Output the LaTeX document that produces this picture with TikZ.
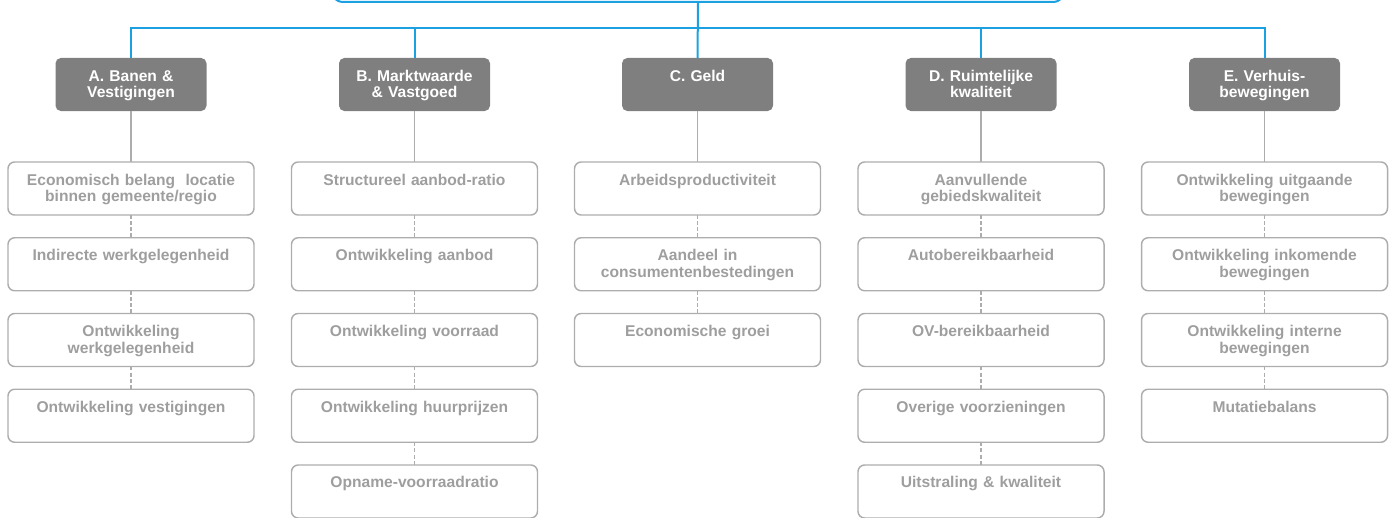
\documentclass[tikz,border=0pt]{standalone}
\usepackage{fontspec}
\setmainfont{Liberation Sans}
\usetikzlibrary{positioning}

\definecolor{lineblue}{HTML}{1BA1E2}
\definecolor{headgray}{HTML}{7F7F7F}
\definecolor{boxgray}{HTML}{ADADAD}
\definecolor{textgray}{HTML}{9E9E9E}

\begin{document}
\begin{tikzpicture}[x=0.75pt,y=-0.75pt,node distance=17.06pt,
    every node/.style={outer sep=0pt,inner ysep=0pt,align=center,
      text height=17.25pt,text depth=22.5pt,
      font=\fontsize{11.7}{12.6}\selectfont\bfseries},
    head/.style={rectangle,rounded corners=4pt,fill=headgray,text=white,
      minimum width=113.25pt,text width=105pt,inner xsep=0pt},
    item/.style={rectangle,rounded corners=5pt,draw=boxgray,line width=1.1pt,
      text=textgray,minimum width=184.5pt,text width=175pt,inner xsep=0pt},
    link/.style={draw=lineblue,line width=1.5pt},
    stem/.style={draw=boxgray,line width=1.1pt},
    dots/.style={stem,dash pattern=on 3pt off 1.6pt}]

  \useasboundingbox (0,0) rectangle (1394,517);

  \node[draw=lineblue,line width=1.5pt,rounded corners=10pt,fill=white,
        minimum width=552pt,minimum height=33pt,inner sep=0pt,
        text height=,text depth=] (goal) at (698,-20) {};
  \coordinate (bar) at (698,28.5);

  \node[head] (A) at (131,84.5)    {A. Banen \&\\Vestigingen};
  \node[head] (B) at (414.5,84.5)  {B. Marktwaarde\\\& Vastgoed};
  \node[head] (C) at (697.5,84.5)  {C. Geld};
  \node[head] (D) at (981,84.5)    {D. Ruimtelijke\\kwaliteit};
  \node[head] (E) at (1264.5,84.5) {E. Verhuis-\\bewegingen};

  % A. Banen & Vestigingen
  \node[item] (a1) [below=38.25pt of A] {Economisch belang~~locatie\\binnen gemeente/regio};
  \node[item] (a2) [below=of a1] {Indirecte werkgelegenheid};
  \node[item] (a3) [below=of a2] {Ontwikkeling\\werkgelegenheid};
  \node[item] (a4) [below=of a3] {Ontwikkeling vestigingen};

  % B. Marktwaarde & Vastgoed
  \node[item] (b1) [below=38.25pt of B] {Structureel aanbod-ratio};
  \node[item] (b2) [below=of b1] {Ontwikkeling aanbod};
  \node[item] (b3) [below=of b2] {Ontwikkeling voorraad};
  \node[item] (b4) [below=of b3] {Ontwikkeling huurprijzen};
  \node[item] (b5) [below=of b4] {Opname-voorraadratio};

  % C. Geld
  \node[item] (c1) [below=38.25pt of C] {Arbeidsproductiviteit};
  \node[item] (c2) [below=of c1] {Aandeel in\\consumentenbestedingen};
  \node[item] (c3) [below=of c2] {Economische groei};

  % D. Ruimtelijke kwaliteit
  \node[item] (d1) [below=38.25pt of D] {Aanvullende\\gebiedskwaliteit};
  \node[item] (d2) [below=of d1] {Autobereikbaarheid};
  \node[item] (d3) [below=of d2] {OV-bereikbaarheid};
  \node[item] (d4) [below=of d3] {Overige voorzieningen};
  \node[item] (d5) [below=of d4] {Uitstraling \& kwaliteit};

  % E. Verhuisbewegingen
  \node[item] (e1) [below=38.25pt of E] {Ontwikkeling uitgaande\\bewegingen};
  \node[item] (e2) [below=of e1] {Ontwikkeling inkomende\\bewegingen};
  \node[item] (e3) [below=of e2] {Ontwikkeling interne\\bewegingen};
  \node[item] (e4) [below=of e3] {Mutatiebalans};

  % blue tree
  \draw[link] (goal.south) -- (C.north);
  \draw[link] (A.north) |- (bar) -| (E.north);
  \draw[link] (B.north) -- (B.north |- bar);
  \draw[link] (D.north) -- (D.north |- bar);

  \path (A) edge[stem] (a1)  (a1) edge[dots] (a2)  (a2) edge[dots] (a3)  (a3) edge[dots] (a4)
        (B) edge[stem] (b1)  (b1) edge[dots] (b2)  (b2) edge[dots] (b3)  (b3) edge[dots] (b4)
        (b4) edge[dots] (b5)
        (C) edge[stem] (c1)  (c1) edge[dots] (c2)  (c2) edge[dots] (c3)
        (D) edge[stem] (d1)  (d1) edge[dots] (d2)  (d2) edge[dots] (d3)  (d3) edge[dots] (d4)
        (d4) edge[dots] (d5)
        (E) edge[stem] (e1)  (e1) edge[dots] (e2)  (e2) edge[dots] (e3)  (e3) edge[dots] (e4);
\end{tikzpicture}
\end{document}
